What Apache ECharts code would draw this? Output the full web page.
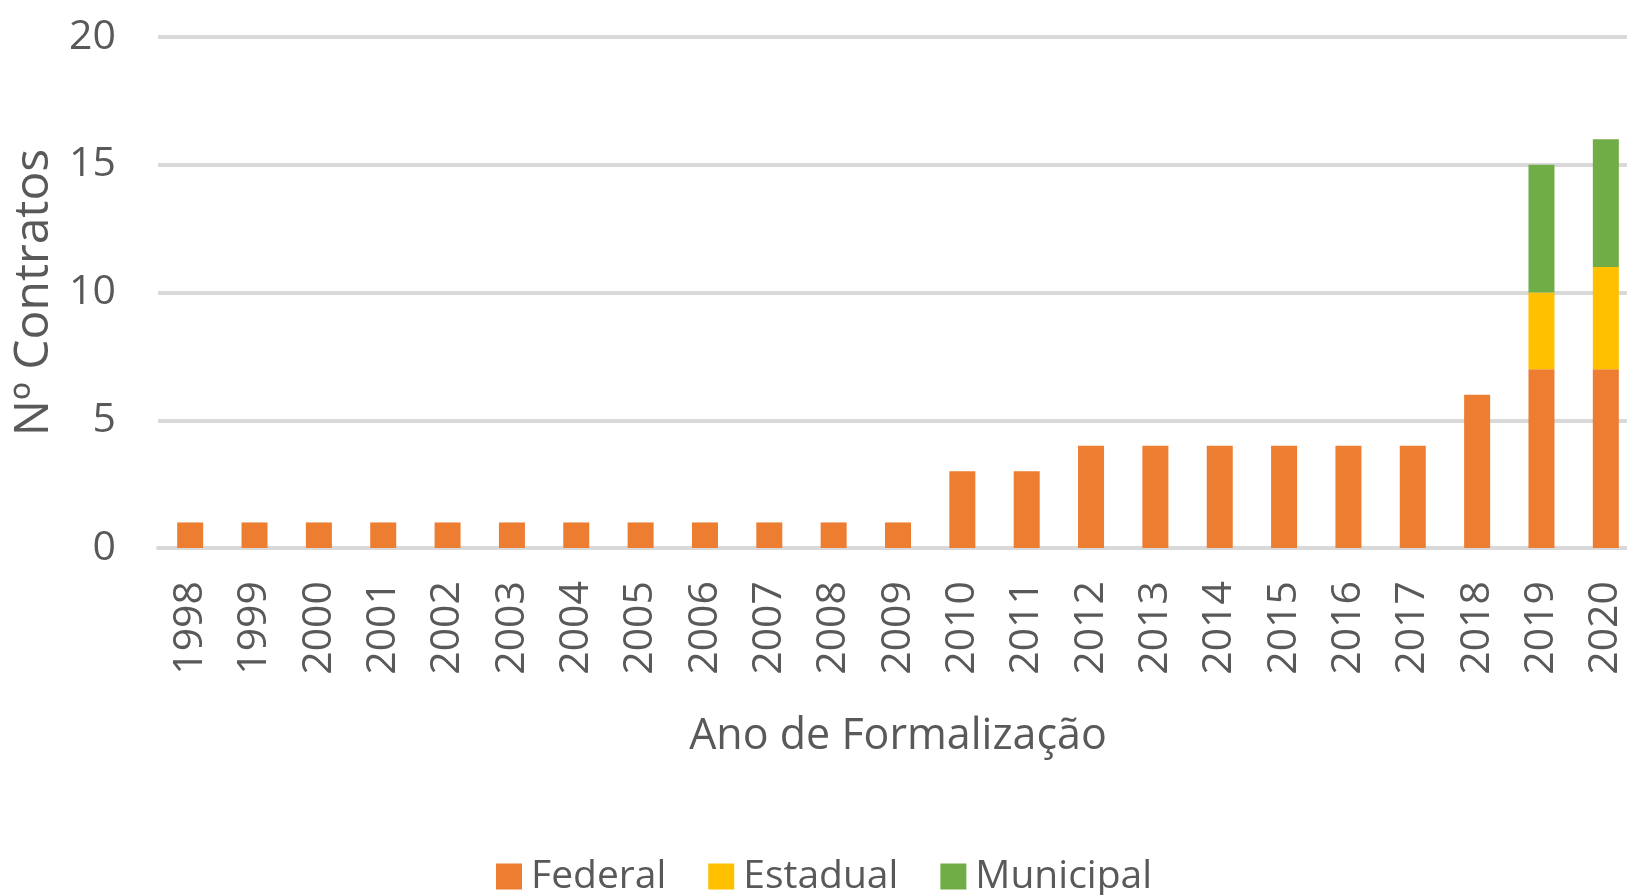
<!DOCTYPE html>
<html>
<head>
<meta charset="utf-8">
<script src="https://cdn.jsdelivr.net/npm/echarts@6/dist/echarts.min.js"></script>
<style>
html,body{margin:0;padding:0;background:#fff;}
#chart{width:1627px;height:895px;}
</style>
</head>
<body>
<div id="chart"></div>
<script>
const categories = ['1998','1999','2000','2001','2002','2003','2004','2005','2006','2007','2008','2009','2010','2011','2012','2013','2014','2015','2016','2017','2018','2019','2020'];
const federal   = [1,1,1,1,1,1,1,1,1,1,1,1,3,3,4,4,4,4,4,4,6,7,7];
const estadual  = [0,0,0,0,0,0,0,0,0,0,0,0,0,0,0,0,0,0,0,0,0,3,4];
const municipal = [0,0,0,0,0,0,0,0,0,0,0,0,0,0,0,0,0,0,0,0,0,5,5];
const seriesNames = ['Federal','Estadual','Municipal'];
const yTicks = [0,5,10,15,20];

const FONT = '"Open Sans", "Noto Sans", sans-serif';
const TXT = '#595959';
const GRID = '#d9d9d9';

const chart = echarts.init(document.getElementById('chart'));
chart.setOption({
  animation: false,
  textStyle: { fontFamily: FONT, color: TXT },
  grid: { left: 158, right: -11, top: 37, bottom: 347, containLabel: false, outerBoundsMode: 'none' },
  legend: {
    data: seriesNames,
    left: 496, top: 857, padding: 0,
    icon: 'rect', itemWidth: 26, itemHeight: 26, itemGap: 42,
    textStyle: { fontFamily: FONT, fontSize: 39, color: TXT, padding: [0, 0, 0, 4] }
  },
  xAxis: {
    type: 'category',
    data: categories,
    name: 'Ano de Formalização',
    nameLocation: 'middle',
    nameGap: 189,
    nameTextStyle: { fontFamily: FONT, fontSize: 43, color: TXT, verticalAlign: 'middle' },
    axisLine: { show: true, lineStyle: { color: GRID, width: 4 } },
    axisTick: { show: false },
    axisLabel: { rotate: 90, margin: 33, fontFamily: FONT, fontSize: 41, color: TXT, interval: 0 }
  },
  yAxis: {
    type: 'value',
    min: yTicks[0], max: yTicks[yTicks.length - 1], interval: yTicks[1] - yTicks[0],
    name: 'Nº Contratos',
    nameLocation: 'middle',
    nameGap: 124,
    nameTextStyle: { fontFamily: FONT, fontSize: 48, color: TXT, verticalAlign: 'middle' },
    axisLine: { show: false },
    axisTick: { show: false },
    axisLabel: { margin: 42, fontFamily: FONT, fontSize: 41, color: TXT },
    splitLine: { show: true, lineStyle: { color: GRID, width: 4 } }
  },
  series: [
    { name: seriesNames[0], type: 'bar', stack: 'total', data: federal, barWidth: 26, itemStyle: { color: '#ED7D31' } },
    { name: seriesNames[1], type: 'bar', stack: 'total', data: estadual, barWidth: 26, itemStyle: { color: '#FFC000' } },
    { name: seriesNames[2], type: 'bar', stack: 'total', data: municipal, barWidth: 26, itemStyle: { color: '#70AD47' } }
  ]
});
</script>
</body>
</html>
